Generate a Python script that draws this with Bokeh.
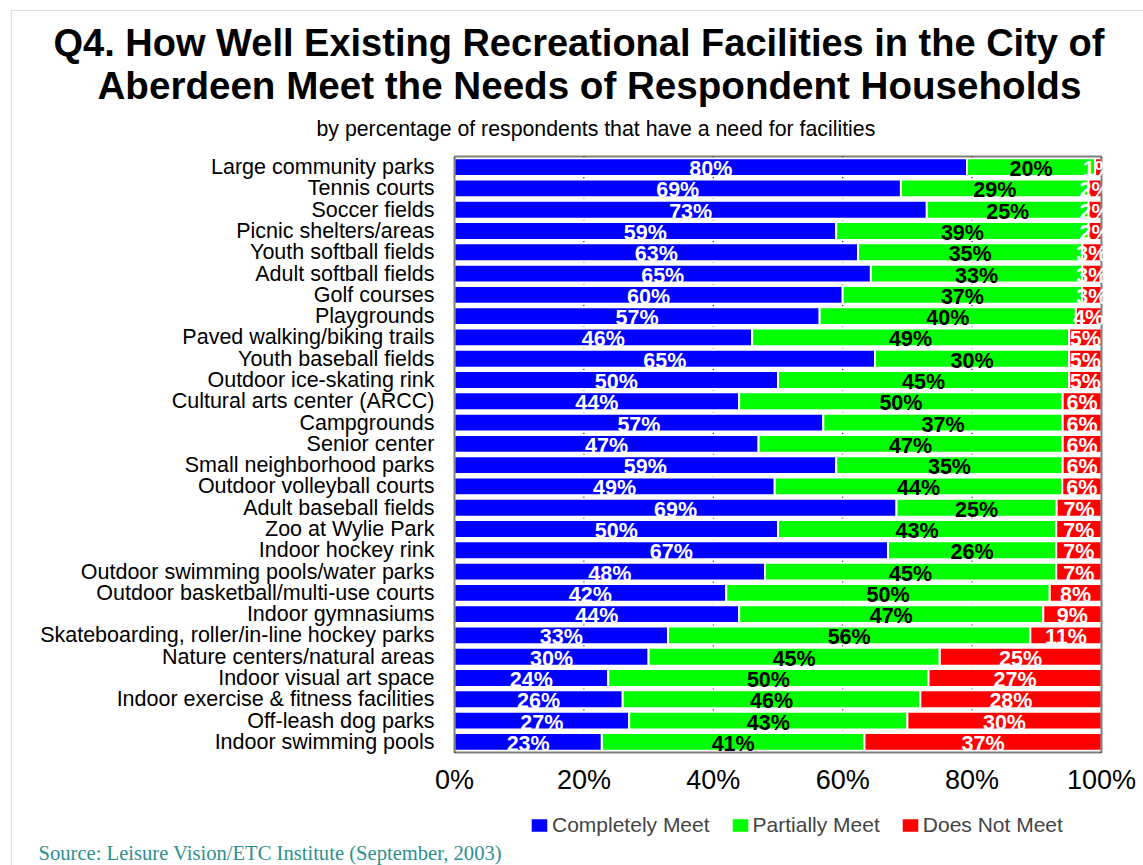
from bokeh.plotting import figure
from bokeh.models import (Range1d, FixedTicker, NumeralTickFormatter, ColumnDataSource,
                          Label, Legend, LegendItem, BoxAnnotation)
from bokeh.core.properties import value
from bokeh.embed import file_html
from bokeh.resources import INLINE

categories = [
    "Large community parks", "Tennis courts", "Soccer fields", "Picnic shelters/areas",
    "Youth softball fields", "Adult softball fields", "Golf courses", "Playgrounds",
    "Paved walking/biking trails", "Youth baseball fields", "Outdoor ice-skating rink",
    "Cultural arts center (ARCC)", "Campgrounds", "Senior center", "Small neighborhood parks",
    "Outdoor volleyball courts", "Adult baseball fields", "Zoo at Wylie Park",
    "Indoor hockey rink", "Outdoor swimming pools/water parks",
    "Outdoor basketball/multi-use courts", "Indoor gymnasiums",
    "Skateboarding, roller/in-line hockey parks", "Nature centers/natural areas",
    "Indoor visual art space", "Indoor exercise & fitness facilities",
    "Off-leash dog parks", "Indoor swimming pools",
]
completely_meet = [80, 69, 73, 59, 63, 65, 60, 57, 46, 65, 50, 44, 57, 47, 59, 49, 69, 50,
                   67, 48, 42, 44, 33, 30, 24, 26, 27, 23]
partially_meet = [20, 29, 25, 39, 35, 33, 37, 40, 49, 30, 45, 50, 37, 47, 35, 44, 25, 43,
                  26, 45, 50, 47, 56, 45, 50, 46, 43, 41]
does_not_meet = [1, 2, 2, 2, 3, 3, 3, 4, 5, 5, 5, 6, 6, 6, 6, 6, 7, 7, 7, 7, 8, 9, 11, 25,
                 27, 28, 30, 37]
series_names = ["Completely Meet", "Partially Meet", "Does Not Meet"]
series_colors = ["#0000FF", "#00FF00", "#FF0000"]
label_colors = ["white", "black", "white"]
x_ticks = [0, 0.2, 0.4, 0.6, 0.8, 1.0]
grid_ticks = [0.2, 0.4, 0.6, 0.8]

title_1 = "Q4. How Well Existing Recreational Facilities in the City of"
title_2 = "Aberdeen Meet the Needs of Respondent Households"
subtitle = "by percentage of respondents that have a need for facilities"
source_note = "Source:  Leisure Vision/ETC Institute (September, 2003)"

FONT = "Liberation Sans"

# 100% stacked fractions
totals = [a + b + c for a, b, c in zip(completely_meet, partially_meet, does_not_meet)]
f_c = [a / t for a, t in zip(completely_meet, totals)]
f_p = [b / t for b, t in zip(partially_meet, totals)]
f_n = [c / t for c, t in zip(does_not_meet, totals)]
n = len(categories)
rows = list(range(n))

src = ColumnDataSource(dict(row=rows, c=f_c, pm=f_p, n=f_n))

# canvas and bar-area geometry (pixels)
W, H = 1143, 865
FL, FR, FT, FB = 454, 1101, 156, 752
ROW = (FB - FT) / n

x_range = Range1d(-FL / (FR - FL), (W - FL) / (FR - FL))
y_range = Range1d((H - FT) / ROW - 0.5, -FT / ROW - 0.5)   # rows run downward

p = figure(width=W, height=H, x_range=x_range, y_range=y_range, title=None,
           output_backend="svg", toolbar_location=None, min_border=0)
p.outline_line_color = None
p.xgrid.grid_line_color = None
p.ygrid.grid_line_color = None

# dashed gridlines inside the bar area
p.segment(x0=grid_ticks, y0=-0.5, x1=grid_ticks, y1=n - 0.5,
          line_color="black", line_width=1, line_dash="2 2")

renderers = p.hbar_stack(["c", "pm", "n"], y="row", height=0.84, source=src,
                         fill_color=series_colors, line_color="white", line_width=2)

# dotted border of the bar area
p.quad(left=0, right=1, top=-0.5, bottom=n - 0.5, fill_color=None,
       line_color="black", line_width=2, line_dash="1 1")

# segment labels
mid_c = [a / 2 for a in f_c]
mid_p = [a + b / 2 for a, b in zip(f_c, f_p)]
mid_n = [a + b + c / 2 for a, b, c in zip(f_c, f_p, f_n)]
for mids, vals, col in zip([mid_c, mid_p, mid_n],
                           [completely_meet, partially_meet, does_not_meet], label_colors):
    lsrc = ColumnDataSource(dict(x=mids, y=rows, t=[f"{v}%" for v in vals]))
    p.text(x="x", y="y", text="t", source=lsrc, text_color=col,
           text_font=value(FONT), text_font_style="bold", text_font_size="21.5px",
           text_align="center", text_baseline="alphabetic", y_offset=2)

# axes drawn at fixed data locations
xa = p.xaxis[0]
xa.fixed_location = n - 0.5
xa.ticker = FixedTicker(ticks=x_ticks)
xa.formatter = NumeralTickFormatter(format="0%")
xa.major_label_text_font = FONT
xa.major_label_text_font_size = "27px"
xa.major_label_text_color = "black"
xa.major_label_standoff = 6
xa.axis_line_color = None
xa.major_tick_line_color = None
xa.minor_tick_line_color = None

ya = p.yaxis[0]
ya.fixed_location = 0
ya.ticker = FixedTicker(ticks=rows)
ya.major_label_overrides = {i: c for i, c in zip(rows, categories)}
ya.major_label_text_font = FONT
ya.major_label_text_font_size = "21.5px"
ya.major_label_text_color = "black"
ya.major_label_standoff = 14
ya.axis_line_color = None
ya.major_tick_line_color = None
ya.minor_tick_line_color = None

# outer dotted frame
p.add_layout(BoxAnnotation(left=11, right=3000, top=H - 10, bottom=-3000,
                           left_units="screen", right_units="screen",
                           top_units="screen", bottom_units="screen",
                           fill_alpha=0, line_color="#222222", line_width=1.2,
                           line_dash="1 1"))

def txt(s, x, y, size, bold=False, font=FONT, color="black"):
    p.add_layout(Label(x=x, y=H - y, x_units="screen", y_units="screen", text=s,
                       text_font=font, text_font_style="bold" if bold else "normal",
                       text_font_size=size, text_align="left",
                       text_baseline="alphabetic", text_color=color))

txt(title_1, 53, 42, "38px", bold=True)
txt(title_2, 97, 85, "38.6px", bold=True)
txt(subtitle, 316, 128, "21.3px")
txt(source_note, 38, 852, "20.6px", font="Liberation Serif", color="#2F8F8F")

legend = Legend(items=[LegendItem(label=s, renderers=[r]) for s, r in zip(series_names, renderers)],
                orientation="horizontal", location=(528, H - 837),
                label_text_font=FONT, label_text_font_size="21px",
                glyph_width=22, glyph_height=18, label_standoff=2, spacing=19,
                padding=0, margin=0, border_line_color=None, background_fill_alpha=0)
p.add_layout(legend)

open("out.html", "w").write(file_html(p, INLINE))
